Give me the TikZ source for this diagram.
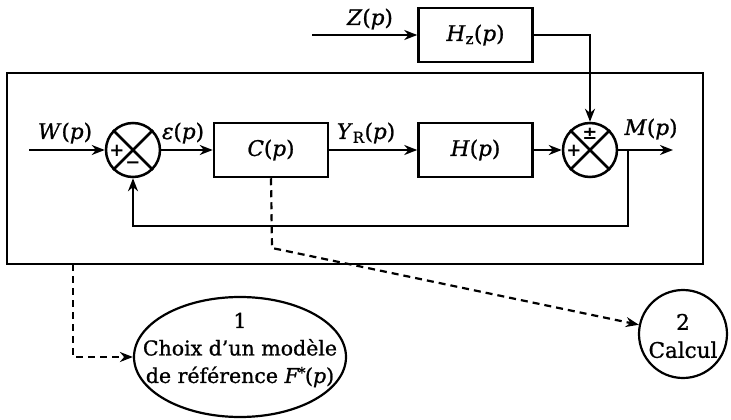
\documentclass[tikz,border=0pt]{standalone}
\usepackage{fontspec}
\setmainfont{DejaVu Serif}[UprightFeatures={FakeBold=1}, ItalicFeatures={FakeBold=1}]
\usetikzlibrary{arrows.meta,shapes.geometric}

% italic variable names
\newcommand{\vr}[1]{\textit{#1}}

\begin{document}
\begin{tikzpicture}[x=1pt,y=-1pt,
  font=\fontsize{21.5}{28}\selectfont,
  every node/.style={inner sep=0pt},
  wire/.style={line width=2.5pt},
  arr/.style={wire,-{Stealth[length=13pt,width=10pt]}},
  dsh/.style={line width=2.2pt,dash pattern=on 7pt off 5pt,-{Stealth[length=13pt,width=10pt]}},
  blk/.style={draw,line width=2.5pt,minimum width=114pt,minimum height=54pt},
  sumj/.style={draw,circle,line width=2.5pt,minimum size=54pt},
  sgn/.style={font=\fontsize{18}{18}\selectfont\bfseries},
  lbl/.style={}
]
\useasboundingbox (0,0) rectangle (731,420);

% outer frame of the control loop
\node[draw,line width=2.3pt,minimum width=696pt,minimum height=191pt] (frame) at (355,168.5) {};

% blocks
\node[blk] (C)  at (271,150) {\vr{C}(\vr{p})};
\node[blk] (H)  at (475.5,150) {\vr{H}(\vr{p})};
\node[blk] (Hz) at (475.5,35) {\vr{H}\textsubscript{z}(\vr{p})};

% summing junctions
\node[sumj] (S1) at (133,150) {};
\node[sumj] (S2) at (590,150) {};
\foreach \s in {S1,S2}{
  \draw[wire] (\s.45) -- (\s.225);
  \draw[wire] (\s.135) -- (\s.-45);
}
\node[sgn] (s1p) at (117,151) {+};
\node[sgn] (s1m) at (133,165) {−};
\node[sgn] (s2pm) at (590,134) {±};
\node[sgn] (s2p) at (574,151) {+};

% signal coordinates
\coordinate (win) at (29,150);
\coordinate (zin) at (312,35);
\coordinate (mout) at (673,150);
\coordinate (fb) at (628,150);
\coordinate (fbc) at (628,226);

% connectors
\draw[arr] (win) -- (S1.west);
\draw[arr] (S1.east) -- (C.west);
\draw[arr] (C.east) -- (H.west);
\draw[arr] (H.east) -- (S2.west);
\draw[arr] (S2.east) -- (mout);
\draw[arr] (zin) -- (Hz.west);
\draw[arr] (Hz.east) -| (S2.north);
\draw[arr] (fb) -- (fbc) -| (S1.south);

% signal labels
\node[lbl] (lw) at (65,133) {\vr{W}(\vr{p})};
\node[lbl] (le) at (183,133) {\vr{ε}(\vr{p})};
\node[lbl] (ly) at (366,133) {\vr{Y}\textsubscript{R}(\vr{p})};
\node[lbl] (lm) at (651,129) {\vr{M}(\vr{p})};
\node[lbl] (lz) at (370,19) {\vr{Z}(\vr{p})};

% design steps
\node[draw,ellipse,line width=2.2pt,minimum width=212pt,minimum height=120pt] (E1) at (240,357) {};
\node[align=center,font=\fontsize{20.5}{27.5}\selectfont] (t1) at (240,350)
  {1\\Choix d’un modèle\\de référence \vr{F}\kern-0.05em\textsuperscript{\raisebox{-0.15em}{*}}\kern-0.05em(\vr{p})};
\node[draw,circle,line width=2.2pt,minimum size=88pt] (E2) at (683,334) {};
\node[align=center] (t2) at (683,336) {2\\Calcul};

% dashed links to the design steps
\coordinate (d1) at (73,264);
\coordinate (d2) at (73,357);
\coordinate (c1) at (272,248);
\draw[dsh] (d1) -- (d2) -- (E1.west);
\draw[dsh] (C.south) -- (c1) -- (E2);
\end{tikzpicture}
\end{document}
